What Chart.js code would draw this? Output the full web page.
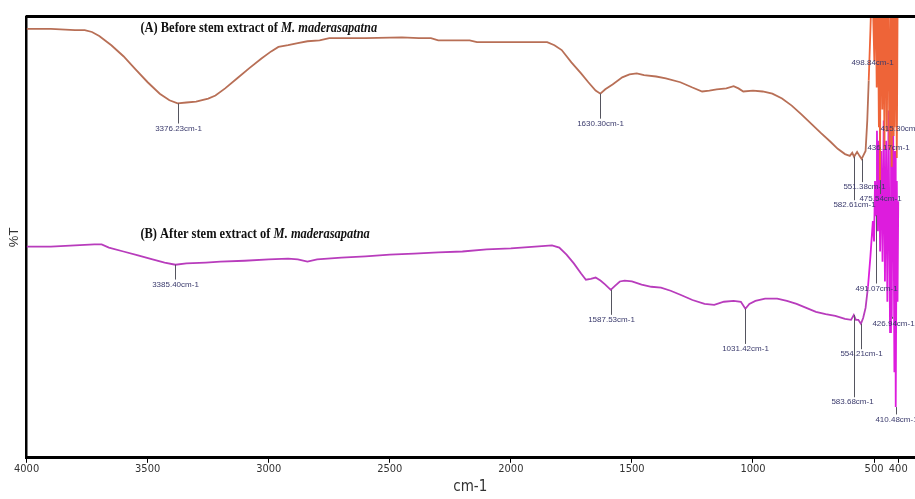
<!DOCTYPE html>
<html>
<head>
<meta charset="utf-8">
<script src="https://cdn.jsdelivr.net/npm/chart.js@4.4.0/dist/chart.umd.min.js"></script>
<style>
  html, body { margin: 0; padding: 0; background: #fff; }
  canvas { display: block; }
</style>
</head>
<body>
<canvas id="ftir" width="915" height="499"></canvas>
<script>
// FTIR spectra: wavenumber (cm-1) and transmittance (%T)
const waveA = [4000,3900,3800,3760,3730,3700,3650,3600,3550,3500,
  3450,3410,3376.23,3340,3300,3250,3220,3180,3130,3080,
  3030,2990,2960,2920,2880,2840,2790,2750,2600,2450,
  2380,2330,2300,2170,2140,1900,1850,1820,1790,1750,
  1710,1680,1650,1630.30,1610,1580,1540,1510,1480,1450,
  1400,1360,1300,1250,1210,1180,1150,1110,1080,1060,
  1040,1000,960,920,880,840,800,760,720,680,
  650,620,600,590,582.61,570,560,551.38,545,535,
  528,522,515,508,505,498.84,494,489,485,480,
  477,475.54,472,466,462,457,452,447,443,436.17,
  432,427,423,419,417,415.30,411,406,402,400];
const transA = [97.3,97.3,97.0,97.0,96.6,95.7,93.6,91.1,88.1,85.2,
  82.6,81.1,80.4,80.6,80.8,81.5,82.2,83.8,86.1,88.4,
  90.6,92.2,93.2,93.6,94.1,94.5,94.7,95.2,95.2,95.4,
  95.2,95.2,94.7,94.7,94.3,94.3,94.3,93.6,92.5,89.7,
  87.2,85.2,83.3,82.6,83.6,84.7,86.3,87.0,87.2,86.8,
  86.5,86.1,85.2,84.0,83.1,83.3,83.6,83.8,84.3,83.8,
  83.1,83.3,83.1,82.6,81.5,79.9,77.9,75.8,73.7,71.7,
  70.1,68.9,68.5,69.2,68.3,69.4,68.5,67.8,68.5,69.6,
  76.5,85.6,97.0,110,110,90,110,84,110,75,
  110,63,110,79,110,70,110,74,110,70,
  110,66,110,73,110,75,110,68,110,100];

const waveB = [4000,3900,3800,3720,3690,3660,3600,3540,3480,3430,
  3385.40,3340,3260,3200,3100,3000,2920,2880,2840,2800,
  2700,2600,2500,2400,2300,2200,2100,2000,1900,1830,
  1800,1770,1740,1710,1690,1670,1650,1630,1610,1587.53,
  1570,1550,1530,1500,1460,1420,1380,1340,1300,1250,
  1200,1160,1120,1080,1050,1031.42,1015,990,950,900,
  860,820,780,740,700,660,620,595,583.68,575,
  565,554.21,545,535,525,515,505,500,496,491.07,
  488,484,480,475,470,465,460,455,450,445,
  440,434,430,426.94,422,416,413,410.48,406,403,
  400];
const transB = [47.9,47.9,48.2,48.4,48.4,47.7,46.8,45.9,45.0,44.3,
  43.8,44.1,44.3,44.5,44.7,45.0,45.2,45.0,44.5,45.0,
  45.4,45.7,46.1,46.3,46.6,46.8,47.3,47.5,47.9,48.2,
  47.7,46.1,44.1,41.8,40.4,40.6,40.9,40.2,39.3,38.1,
  39.0,40.0,40.2,40.0,39.3,38.8,38.6,37.9,37.0,35.8,
  34.9,34.7,35.4,35.6,35.4,33.8,34.9,35.6,36.1,36.1,
  35.6,34.9,34.0,33.1,32.6,32.2,31.5,31.3,32.4,31.3,
  31.3,30.4,31.7,34.0,38.8,45.7,53.7,49.1,62.8,55.0,
  74.2,51.4,71.9,46.8,69.6,44.5,76.5,40.0,71.9,35.4,
  78.8,28.5,83.3,32.0,85.6,19.4,69.6,11.5,62.8,35.4,
  58.2];

// labelled peaks (cm-1)
const peaksA = [3376.23, 1630.30, 582.61, 551.38, 498.84, 475.54, 436.17, 415.30];
const peaksB = [3385.40, 1587.53, 1031.42, 583.68, 554.21, 491.07, 426.94, 410.48];

const xTicks = [4000, 3500, 3000, 2500, 2000, 1500, 1000, 500, 400];
const titleA = '(A) Before stem extract of ';
const titleB = '(B) After stem extract of ';
const species = 'M. maderasapatna';

// where each peak label sits (text level in %T, horizontal nudge in px)
const placeA = [{at:74.7,dx:0},{at:75.8,dx:0},{at:57.3,dx:0},{at:61.4,dx:2},
                {at:89.5,dx:-2},{at:58.7,dx:0},{at:70.3,dx:-2},{at:74.7,dx:6}];
const placeB = [{at:39.3,dx:0},{at:31.3,dx:0},{at:24.7,dx:0},{at:12.6,dx:-2},
                {at:23.5,dx:0},{at:38.4,dx:0},{at:30.4,dx:1},{at:8.7,dx:0}];

const toPoints = (w, t) => w.map((v, i) => ({ x: v, y: t[i] }));

const peakLabels = {
  id: 'peakLabels',
  afterDatasetsDraw(chart) {
    const { ctx, scales: { x, y }, chartArea } = chart;
    ctx.save();
    ctx.font = '8px "Liberation Sans Narrow", "Liberation Sans", Arial, sans-serif';
    ctx.textAlign = 'center';
    ctx.textBaseline = 'middle';
    const groups = [[peaksA, waveA, transA, placeA], [peaksB, waveB, transB, placeB]];
    groups.forEach(([peaks, w, t, place]) => {
      peaks.forEach((p, i) => {
        const idx = w.indexOf(p);
        const px = Math.round(x.getPixelForValue(p)) + 0.5;
        const py = y.getPixelForValue(Math.min(t[idx], 100));
        const ty = y.getPixelForValue(place[i].at);
        if (ty - 5 > py) {
          ctx.strokeStyle = '#55555f';
          ctx.lineWidth = 1;
          ctx.beginPath();
          ctx.moveTo(px, py);
          ctx.lineTo(px, ty - 5);
          ctx.stroke();
        }
        ctx.fillStyle = '#3a3a6c';
        ctx.fillText(p.toFixed(2) + 'cm-1', px + place[i].dx, ty);
      });
    });

    // series captions
    const drawCaption = (lead, xs, ys) => {
      ctx.save();
      ctx.translate(xs, ys);
      ctx.scale(0.89, 1);
      ctx.textAlign = 'left';
      ctx.textBaseline = 'middle';
      ctx.fillStyle = '#111';
      ctx.font = 'bold 14px "Liberation Serif", "Times New Roman", serif';
      ctx.fillText(lead, 0, 0);
      const wLead = ctx.measureText(lead).width;
      ctx.font = 'italic bold 14px "Liberation Serif", "Times New Roman", serif';
      ctx.fillText(species, wLead, 0);
      ctx.restore();
    };
    drawCaption(titleA, x.getPixelForValue(3530), y.getPixelForValue(97.5));
    drawCaption(titleB, x.getPixelForValue(3530), y.getPixelForValue(50.7));

    // heavy frame line along the top
    ctx.fillStyle = '#000';
    ctx.fillRect(chartArea.left - 1, chartArea.top - 2, chart.width - chartArea.left + 1, 3);
    ctx.restore();
  }
};

const condensed = '"Liberation Sans Narrow", "DejaVu Sans Condensed", "Liberation Sans", Arial, sans-serif';

new Chart(document.getElementById('ftir'), {
  type: 'line',
  data: {
    datasets: [
      {
        label: titleA + species,
        data: toPoints(waveA, transA),
        borderColor: '#b86f56',
        borderWidth: 1.8,
        pointRadius: 0,
        tension: 0,
        segment: { borderColor: c => (c.p0.parsed.x < 526 ? '#ee6438' : undefined) }
      },
      {
        label: titleB + species,
        data: toPoints(waveB, transB),
        borderColor: '#b83cbc',
        borderWidth: 1.8,
        pointRadius: 0,
        tension: 0,
        segment: { borderColor: c => (c.p0.parsed.x < 530 ? '#dd1cdd' : undefined) }
      }
    ]
  },
  options: {
    responsive: false,
    animation: false,
    events: [],
    layout: { padding: { top: 17, right: 1, left: 5, bottom: 3 } },
    plugins: { legend: { display: false }, tooltip: { enabled: false } },
    scales: {
      x: {
        type: 'linear',
        reverse: true,
        min: 335,
        max: 4000,
        afterBuildTicks: axis => { axis.ticks = xTicks.map(v => ({ value: v })); },
        ticks: {
          autoSkip: false,
          maxRotation: 0,
          padding: 0,
          color: '#333',
          font: { family: condensed, size: 11 },
          callback: v => String(v)
        },
        grid: { drawOnChartArea: false, drawTicks: true, tickLength: 5, color: '#000', tickWidth: 1 },
        border: { display: true, color: '#000', width: 3 },
        title: {
          display: true,
          text: 'cm-1',
          color: '#333',
          font: { family: condensed, size: 15 },
          padding: { top: 2, bottom: 0 }
        }
      },
      y: {
        min: 0,
        max: 100,
        ticks: { display: false },
        grid: { drawOnChartArea: false, drawTicks: false },
        border: { display: true, color: '#000', width: 2.5 },
        title: {
          display: true,
          text: '%T',
          color: '#333',
          font: { family: '"Liberation Sans", Arial, sans-serif', size: 13 },
          padding: { top: 2, bottom: 4 }
        }
      }
    }
  },
  plugins: [peakLabels]
});
</script>
</body>
</html>
